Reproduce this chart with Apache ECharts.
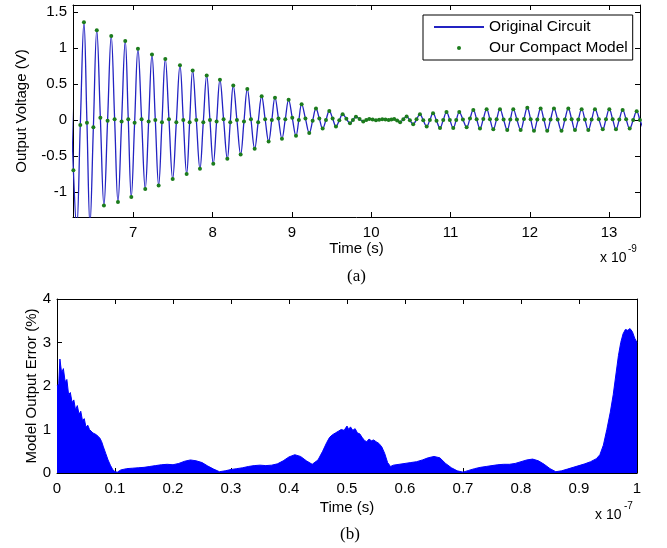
<!DOCTYPE html>
<html><head><meta charset="utf-8">
<script src="https://cdn.jsdelivr.net/npm/echarts@6/dist/echarts.min.js"></script>
<style>html,body{margin:0;padding:0;background:#fff}#c{width:667px;height:548px}</style>
</head><body><div id="c"></div>
<script>
// ---- (a) output voltage, time in units of 1e-9 s ----
const timeNs = [
 6.215, 6.245, 6.286, 6.332, 6.378, 6.416, 6.454, 6.497, 6.540, 6.585,
 6.630, 6.676, 6.722, 6.765, 6.807, 6.853, 6.899, 6.937, 6.975, 7.017,
 7.059, 7.105, 7.151, 7.194, 7.236, 7.278, 7.320, 7.362, 7.404, 7.450,
 7.497, 7.543, 7.589, 7.631, 7.673, 7.711, 7.749, 7.795, 7.841, 7.883,
 7.926, 7.967, 8.009, 8.051, 8.093, 8.139, 8.186, 8.223, 8.261, 8.307,
 8.354, 8.396, 8.438, 8.484, 8.531, 8.575, 8.619, 8.663, 8.707, 8.747,
 8.787, 8.831, 8.875, 8.917, 8.959, 9.005, 9.052, 9.088, 9.123, 9.171,
 9.219, 9.262, 9.304, 9.346, 9.388, 9.430, 9.472, 9.514, 9.556, 9.598,
 9.640, 9.687, 9.733, 9.770, 9.808, 9.854, 9.900, 9.938, 9.976, 10.018,
 10.06, 10.10, 10.14, 10.18, 10.22, 10.255, 10.29, 10.327, 10.365, 10.406,
 10.447, 10.488, 10.53, 10.572, 10.615, 10.657, 10.70, 10.74, 10.78, 10.824,
 10.868, 10.909, 10.95, 10.992, 11.035, 11.073, 11.111, 11.157, 11.204, 11.246,
 11.288, 11.33, 11.372, 11.414, 11.456, 11.498, 11.54, 11.582, 11.624, 11.67,
 11.716, 11.754, 11.792, 11.838, 11.885, 11.927, 11.969, 12.011, 12.053, 12.095,
 12.137, 12.178, 12.22, 12.262, 12.305, 12.352, 12.40, 12.443, 12.486, 12.528,
 12.57, 12.612, 12.654, 12.696, 12.738, 12.78, 12.822, 12.871, 12.92, 12.961,
 13.003, 13.045, 13.087, 13.129, 13.171, 13.215, 13.26, 13.304, 13.348, 13.389,
 13.43
];
const outputV = [
 0.35, -0.7, -1.50, -0.07, 1.36, -0.04, -1.45, -0.10, 1.25, 0.03,
 -1.19, -0.01, 1.17, 0.01, -1.14, -0.02, 1.10, 0.01, -1.07, -0.04,
 0.99, 0.01, -0.96, -0.02, 0.91, 0.0, -0.91, -0.03, 0.85, 0.01,
 -0.82, -0.03, 0.76, 0.0, -0.75, -0.03, 0.69, 0.0, -0.68, -0.03,
 0.62, 0.0, -0.61, -0.02, 0.56, 0.01, -0.54, -0.03, 0.48, 0.0,
 -0.48, -0.02, 0.43, 0.01, -0.40, -0.03, 0.33, 0.01, -0.30, 0.0,
 0.31, 0.02, -0.26, 0.01, 0.28, 0.03, -0.22, 0.0, 0.22, 0.02,
 -0.18, -0.01, 0.16, 0.02, -0.12, 0.0, 0.125, 0.02, -0.09, -0.005,
 0.08, 0.017, -0.046, 0.0, 0.046, 0.013, -0.02, 0.0, 0.015, 0.005,
 -0.005, 0.002, 0.01, 0.005, 0.0, 0.007, 0.015, -0.007, -0.03, 0.01,
 0.05, -0.005, -0.06, 0.01, 0.08, -0.005, -0.09, 0.0, 0.095, -0.01,
 -0.11, 0.0, 0.11, 0.0, -0.11, 0.0, 0.11, 0.005, -0.10, 0.02,
 0.14, 0.01, -0.12, 0.015, 0.15, 0.01, -0.13, 0.01, 0.15, 0.005,
 -0.14, 0.005, 0.15, 0.005, -0.14, 0.015, 0.17, 0.01, -0.15, 0.005,
 0.16, 0.005, -0.15, 0.005, 0.16, 0.005, -0.15, 0.005, 0.16, 0.01,
 -0.14, 0.005, 0.15, 0.005, -0.14, 0.005, 0.15, 0.01, -0.13, 0.01,
 0.15, 0.01, -0.13, 0.005, 0.14, 0.01, -0.12, 0.0, 0.12, 0.0,
 -0.12
];
// ---- (b) model output error, time in units of 1e-7 s ----
const errTime = [
 0.000, 0.003, 0.005, 0.008, 0.011, 0.014, 0.017, 0.020, 0.023, 0.026,
 0.029, 0.032, 0.035, 0.038, 0.041, 0.044, 0.047, 0.050, 0.053, 0.056,
 0.059, 0.062, 0.065, 0.068, 0.071, 0.074, 0.077, 0.080, 0.084, 0.088,
 0.092, 0.096, 0.100, 0.104, 0.110, 0.120, 0.130, 0.140, 0.150, 0.160,
 0.170, 0.180, 0.190, 0.200, 0.210, 0.220, 0.230, 0.240, 0.250, 0.260,
 0.270, 0.280, 0.290, 0.300, 0.310, 0.320, 0.330, 0.340, 0.350, 0.360,
 0.370, 0.380, 0.390, 0.400, 0.410, 0.420, 0.430, 0.440, 0.450, 0.458,
 0.465, 0.470, 0.475, 0.480, 0.485, 0.490, 0.495, 0.500, 0.503, 0.506,
 0.510, 0.514, 0.518, 0.522, 0.526, 0.530, 0.534, 0.538, 0.542, 0.546,
 0.550, 0.555, 0.560, 0.565, 0.570, 0.575, 0.580, 0.590, 0.600, 0.610,
 0.620, 0.630, 0.640, 0.650, 0.660, 0.670, 0.680, 0.690, 0.700, 0.710,
 0.720, 0.730, 0.740, 0.750, 0.760, 0.770, 0.780, 0.790, 0.800, 0.810,
 0.820, 0.830, 0.840, 0.850, 0.860, 0.870, 0.880, 0.890, 0.900, 0.910,
 0.920, 0.930, 0.936, 0.942, 0.948, 0.954, 0.959, 0.964, 0.968, 0.972,
 0.976, 0.980, 0.984, 0.988, 0.992, 0.996, 1.000
];
const errPct = [
 2.00, 2.05, 2.62, 2.30, 2.40, 2.10, 2.15, 1.80, 1.85, 1.62,
 1.68, 1.45, 1.55, 1.35, 1.42, 1.20, 1.25, 1.05, 1.10, 1.00,
 1.02, 0.92, 0.95, 0.88, 0.90, 0.80, 0.72, 0.60, 0.45, 0.30,
 0.18, 0.08, 0.03, 0.02, 0.07, 0.10, 0.11, 0.12, 0.13, 0.15,
 0.17, 0.19, 0.20, 0.19, 0.22, 0.27, 0.30, 0.28, 0.24, 0.16,
 0.09, 0.03, 0.05, 0.08, 0.10, 0.12, 0.15, 0.17, 0.18, 0.17,
 0.18, 0.21, 0.28, 0.37, 0.42, 0.38, 0.28, 0.20, 0.30, 0.50,
 0.70, 0.82, 0.88, 0.92, 0.96, 1.00, 0.98, 1.08, 1.00, 1.06,
 0.98, 1.02, 0.92, 0.90, 0.82, 0.75, 0.72, 0.78, 0.74, 0.76,
 0.72, 0.68, 0.60, 0.45, 0.24, 0.15, 0.18, 0.20, 0.22, 0.24,
 0.26, 0.30, 0.35, 0.38, 0.35, 0.22, 0.12, 0.05, 0.02, 0.06,
 0.10, 0.13, 0.15, 0.17, 0.19, 0.20, 0.20, 0.22, 0.26, 0.30,
 0.32, 0.28, 0.20, 0.10, 0.03, 0.05, 0.09, 0.13, 0.17, 0.21,
 0.26, 0.33, 0.42, 0.64, 1.00, 1.40, 1.80, 2.30, 2.70, 3.00,
 3.20, 3.30, 3.28, 3.32, 3.25, 3.10, 3.00
];
const seriesNames = ['Original Circuit', 'Our Compact Model'];
const axisTitles = ['Output Voltage (V)', 'Model Output Error (%)', 'Time (s)'];
const panelLabels = ['(a)', '(b)'];

const FONT = 'Liberation Sans';
const voltPairs = timeNs.map((t, i) => [t, outputV[i]]);
const errPairs = errTime.map((t, i) => [t, errPct[i]]);

function ax(extra) {
  return Object.assign({
    type: 'value',
    nameMoveOverlap: false,
    axisLine: { show: true, onZero: false, lineStyle: { color: '#000', width: 1 } },
    axisTick: { show: true, inside: true, length: 5, lineStyle: { color: '#000', width: 1 } },
    axisLabel: { color: '#000', fontSize: 15, fontFamily: FONT, showMinLabel: false, showMaxLabel: false },
    splitLine: { show: false },
    nameTextStyle: { color: '#000', fontSize: 15, fontFamily: FONT }
  }, extra);
}
function mirror(a, pos) {
  const m = JSON.parse(JSON.stringify(a));
  m.position = pos; m.name = ''; m.axisLabel.show = false;
  return m;
}

const x0 = ax({ gridIndex: 0, min: 6.24, max: 13.39, splitNumber: 7, position: 'bottom',
  name: axisTitles[2], nameLocation: 'middle', nameGap: 24 });
x0.axisLabel.margin = 8;
const y0 = ax({ gridIndex: 0, min: -1.35, max: 1.6, splitNumber: 6, position: 'left',
  name: axisTitles[0], nameLocation: 'middle', nameGap: 44 });
y0.axisLabel.margin = 6;
const x1 = ax({ gridIndex: 1, min: 0, max: 1, interval: 0.1, position: 'bottom',
  name: axisTitles[2], nameLocation: 'middle', nameGap: 27 });
x1.axisLabel.showMinLabel = true; x1.axisLabel.showMaxLabel = true; x1.axisLabel.margin = 8;
const y1 = ax({ gridIndex: 1, min: 0, max: 4, interval: 1, position: 'left',
  name: axisTitles[1], nameLocation: 'middle', nameGap: 18 });
y1.axisLabel.showMinLabel = true; y1.axisLabel.showMaxLabel = true; y1.axisLabel.margin = 6;

const option = {
  animation: false,
  backgroundColor: '#fff',
  grid: [
    { left: 73, top: 5, width: 567, height: 212 },
    { left: 57, top: 299, width: 580, height: 174 }
  ],
  xAxis: [x0, mirror(x0, 'top'), x1, mirror(x1, 'top')],
  yAxis: [y0, mirror(y0, 'right'), y1, mirror(y1, 'right')],
  legend: {
    data: [
      { name: seriesNames[0], itemStyle: { color: 'rgba(0,0,0,0)', borderWidth: 0, opacity: 0 } },
      { name: seriesNames[1] }
    ],
    orient: 'vertical', left: 423, top: 15,
    itemWidth: 50, itemHeight: 5, itemGap: 5, itemTextGap: 5,
    padding: [4, 5, 4, 10],
    borderColor: '#000', borderWidth: 1, borderRadius: 0, backgroundColor: '#fff',
    textStyle: { color: '#000', fontSize: 15.5, fontFamily: FONT },
    selectedMode: false
  },
  series: [
    { name: seriesNames[0], type: 'line', xAxisIndex: 0, yAxisIndex: 0, data: voltPairs,
      symbol: 'none', smooth: 0.4, clip: true,
      lineStyle: { color: '#2323c2', width: 1.3 }, itemStyle: { color: '#2323c2' }, z: 2 },
    { name: seriesNames[1], type: 'line', xAxisIndex: 0, yAxisIndex: 0, data: voltPairs,
      symbol: 'circle', symbolSize: 4, showSymbol: true, showAllSymbol: true, clip: true,
      lineStyle: { width: 0, opacity: 0 }, itemStyle: { color: '#1c7c1c' }, z: 3 },
    { name: 'error', type: 'line', xAxisIndex: 2, yAxisIndex: 2, data: errPairs,
      symbol: 'none', clip: true,
      lineStyle: { color: '#0000ff', width: 1 }, areaStyle: { color: '#0000ff', opacity: 1 } }
  ],
  graphic: [
    { type: 'text', left: 600, top: 251, style: { text: 'x 10', fill: '#000', font: '14px "Liberation Sans"' } },
    { type: 'text', left: 628, top: 244, style: { text: '-9', fill: '#000', font: '10px "Liberation Sans"' } },
    { type: 'text', left: 347, top: 268, style: { text: panelLabels[0], fill: '#000', font: '17px "Liberation Serif"' } },
    { type: 'text', left: 595, top: 508, style: { text: 'x 10', fill: '#000', font: '14px "Liberation Sans"' } },
    { type: 'text', left: 624, top: 501, style: { text: '-7', fill: '#000', font: '10px "Liberation Sans"' } },
    { type: 'text', left: 340, top: 526, style: { text: panelLabels[1], fill: '#000', font: '17px "Liberation Serif"' } }
  ]
};
const chart = echarts.init(document.getElementById('c'), null, { renderer: 'canvas' });
chart.setOption(option);
</script>
</body></html>
